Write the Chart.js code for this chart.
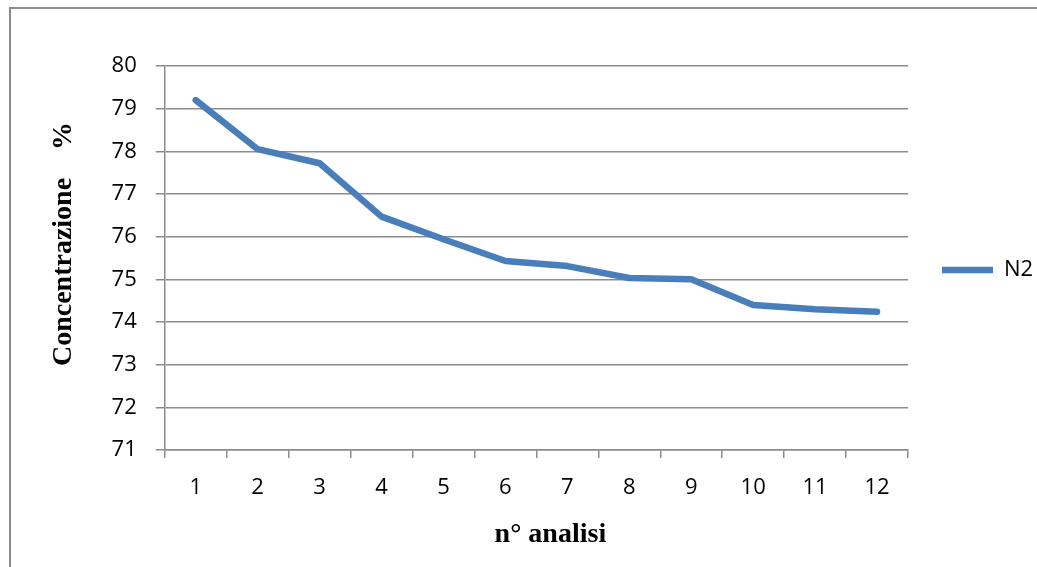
<!DOCTYPE html>
<html>
<head>
<meta charset="utf-8">
<script src="https://cdn.jsdelivr.net/npm/chart.js"></script>
<style>
  html, body { margin: 0; padding: 0; background: #fff; }
  #wrap { position: relative; width: 1037px; height: 567px; overflow: hidden; }
  #frame { position: absolute; left: 9px; top: 7px; width: 1100px; height: 600px;
           border-left: 2px solid #8c8c8c; border-top: 2px solid #8c8c8c; }
  canvas { position: absolute; left: 0; top: 0; }
</style>
</head>
<body>
<div id="wrap">
  <div id="frame"></div>
  <canvas id="n2Chart" width="1037" height="567"></canvas>
</div>
<script>
const analisiLabels = ['1', '2', '3', '4', '5', '6', '7', '8', '9', '10', '11', '12'];
const n2Values = [79.2, 78.05, 77.72, 76.47, 75.94, 75.43, 75.31, 75.03, 75.0, 74.4, 74.3, 74.24];
const seriesName = 'N2';

const tickFont = { family: "'Open Sans', sans-serif", size: 22 };
const titleFont = { family: "'Liberation Serif', 'Times New Roman', serif", size: 28, weight: 'bold' };
const gridGray = '#8c8c8c';

const ctx = document.getElementById('n2Chart').getContext('2d');
const n2Chart = new Chart(ctx, {
  type: 'line',
  data: {
    labels: analisiLabels,
    datasets: [{
      label: seriesName,
      data: n2Values,
      borderColor: '#4a7ebb',
      backgroundColor: '#4a7ebb',
      borderWidth: 6.5,
      borderCapStyle: 'round',
      borderJoinStyle: 'round',
      pointRadius: 0,
      tension: 0
    }]
  },
  options: {
    responsive: false,
    animation: false,
    layout: {
      padding: { top: 66, left: 40, right: 0, bottom: 9 }
    },
    plugins: {
      legend: {
        display: true,
        position: 'right',
        fullSize: false,
        maxWidth: 129,
        title: { display: true, text: ' ', font: { size: 20 }, padding: 0 },
        labels: {
          usePointStyle: true,
          pointStyle: 'line',
          pointStyleWidth: 51,
          padding: 34,
          color: '#000',
          font: tickFont
        }
      },
      tooltip: { enabled: false }
    },
    scales: {
      x: {
        type: 'category',
        offset: true,
        grid: {
          offset: true,
          drawOnChartArea: false,
          drawTicks: true,
          tickLength: 8,
          color: gridGray,
          lineWidth: 1.5
        },
        border: { color: gridGray, width: 1.5 },
        ticks: { color: '#000', font: tickFont, padding: 17, maxRotation: 0 },
        title: {
          display: true,
          text: '    n° analisi',
          color: '#000',
          font: titleFont,
          padding: { top: 0, bottom: 6 }
        }
      },
      y: {
        min: 71,
        max: 80,
        ticks: { stepSize: 1, color: '#000', font: tickFont, padding: 19 },
        grid: { color: gridGray, lineWidth: 1.5, tickLength: 9 },
        border: { color: gridGray, width: 1.5 },
        title: {
          display: true,
          text: '    Concentrazione    %',
          color: '#000',
          font: titleFont,
          padding: { top: 7, bottom: 12 }
        }
      }
    }
  }
});
</script>
</body>
</html>
